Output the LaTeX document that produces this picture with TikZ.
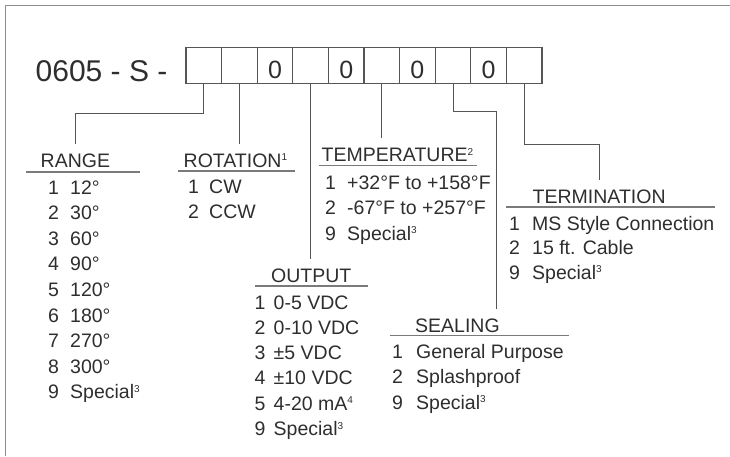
\documentclass[tikz,border=0pt]{standalone}
\usepackage{fontspec}
\setmainfont{Liberation Sans}
\usetikzlibrary{positioning}
\definecolor{inkgray}{HTML}{2E2E2E}
\definecolor{linegray}{HTML}{555555}
\definecolor{rulegray}{HTML}{7A7A7A}
\definecolor{framegray}{HTML}{8C8C8C}
\tikzset{
  digitbox/.style={draw=linegray, line width=1.2pt, minimum width=35.6pt,
    minimum height=36.6pt, inner sep=0pt, outer sep=0pt, text height=26pt,
    text depth=0pt, font=\fontsize{25}{25}\selectfont, text=inkgray},
  head/.style={anchor=base west, inner xsep=0pt, inner ysep=9pt, text height=14pt,
    text depth=0pt, font=\fontsize{19.5}{20}\selectfont, text=inkgray},
  item/.style={anchor=base west, inner sep=0pt, font=\fontsize{19.5}{20}\selectfont, text=inkgray},
  wire/.style={draw=linegray, line width=1pt},
  rule/.style={draw=rulegray, line width=1.6pt},
}
\newcommand{\keyno}[2]{\makebox[#1][l]{#2}}
\newcommand{\fn}[1]{\raisebox{6.5pt}{\fontsize{10}{10}\selectfont #1}}
\begin{document}
\begin{tikzpicture}[x=1pt,y=-1pt]
  \useasboundingbox (0,0) rectangle (730,456);
  \draw[framegray, line width=1.3pt] (5.5,456) -- (5.5,5.5) -- (730,5.5);
  % part number
  \node[anchor=base west, inner sep=0pt, font=\fontsize{30}{30}\selectfont, text=inkgray]
    (code) at (35.5,81) {0605 - S -};
  \node[digitbox] (b1) at (203.8,65.5) {};
  \foreach \i/\d [remember=\i as \prev (initially 1)] in {2/,3/0,4/,5/0,6/,7/0,8/,9/0,10/}
    \node[digitbox, right=0pt of b\prev] (b\i) {\d};
  % headings
  \node[head] (range) at (40.5,167) {RANGE};
  \node[head] (rotation) at (183.5,167) {ROTATION\fn{1}};
  \node[head] (temp) at (321.5,161.5) {TEMPERATURE\fn{2}};
  \node[head] (output) at (271,282) {OUTPUT};
  \node[head] (sealing) at (415,332) {SEALING};
  \node[head] (termination) at (532.5,203) {TERMINATION};
  \draw[rule] (26,172) -- (140,172);
  \draw[rule] (178,171) -- (295,171);
  \draw[rule] (319,165.5) -- (477,165.5);
  \draw[rule] (255,286) -- (368,286);
  \draw[rule] (390,335.5) -- (569,335.5);
  \draw[rule] (506,207) -- (715,207);
  % option lists
  \foreach \n/\t [count=\k] in {1/12°,2/30°,3/60°,4/90°,5/120°,6/180°,7/270°,8/300°,9/Special\fn{3}}
    \node[item] (range-\k) at (48,{194+25.6*(\k-1)}) {\keyno{22pt}{\n}\t};
  \foreach \n/\t [count=\k] in {1/CW,2/CCW}
    \node[item] (rotation-\k) at (188,{193+25*(\k-1)}) {\keyno{21pt}{\n}\t};
  \foreach \n/\t [count=\k] in {1/+32°F to +158°F,2/-67°F to +257°F,9/Special\fn{3}}
    \node[item] (temp-\k) at (325,{189+25.5*(\k-1)}) {\keyno{22pt}{\n}\t};
  \foreach \n/\t [count=\k] in {1/0-5 VDC,2/0-10 VDC,3/±5 VDC,4/±10 VDC,5/4-20 mA\fn{4},9/Special\fn{3}}
    \node[item] (output-\k) at (254.5,{309+25.3*(\k-1)}) {\keyno{19pt}{\n}\t};
  \foreach \n/\t [count=\k] in {1/General Purpose,2/Splashproof,9/Special\fn{3}}
    \node[item] (sealing-\k) at (392,{358+25.5*(\k-1)}) {\keyno{24pt}{\n}\t};
  \foreach \n/\t [count=\k] in {1/MS Style Connection,2/15 ft. Cable,9/Special\fn{3}}
    \node[item] (termination-\k) at (509,{230+24.5*(\k-1)}) {\keyno{23pt}{\n}\t};
  % connectors
  \coordinate (sealdrop) at (496,111);
  \draw[wire] (b1.south) -- ++(0,30) -| (range.north);
  \draw[wire] (b2.south) -- (b2.south |- rotation.north);
  \draw[wire] (b4.south) -- (b4.south |- output.north);
  \draw[wire] (b6.south) -- (b6.south |- temp.north);
  \draw[wire] (b8.south) |- (sealdrop) -- (sealdrop |- sealing.north);
  \draw[wire] (b10.south) -- ++(0,61) -| (termination.north);
\end{tikzpicture}
\end{document}
